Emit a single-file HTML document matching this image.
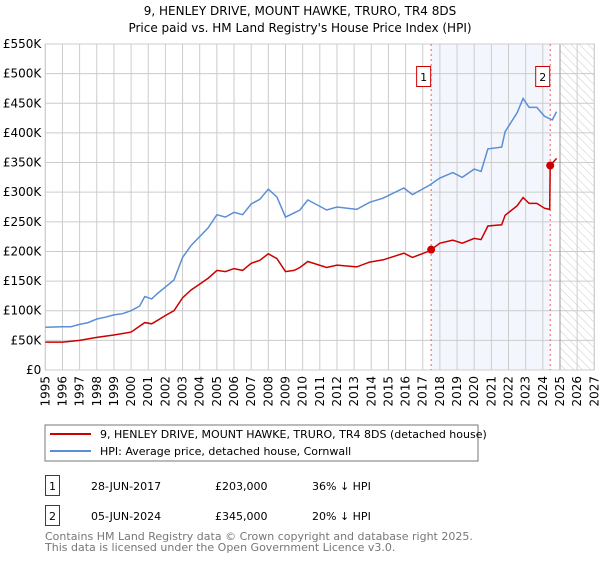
<!DOCTYPE html>
<html><head><meta charset="utf-8"><style>
body{margin:0;background:#fff;font-family:"DejaVu Sans","Liberation Sans",sans-serif;}
svg text{font-family:"DejaVu Sans","Liberation Sans",sans-serif;}
</style></head><body>
<svg id="chart" width="600" height="560" viewBox="0 0 600 560" xmlns="http://www.w3.org/2000/svg">
<defs><pattern id="hatch" width="6" height="6" patternUnits="userSpaceOnUse" patternTransform="rotate(-45)"><line x1="0" y1="0" x2="0" y2="6" stroke="#ccc" stroke-width="1"/></pattern></defs>
<text x="300" y="15" font-size="12" text-anchor="middle">9, HENLEY DRIVE, MOUNT HAWKE, TRURO, TR4 8DS</text>
<text x="300" y="32" font-size="12" text-anchor="middle">Price paid vs. HM Land Registry's House Price Index (HPI)</text>
<g id="plot"></g>
<g>
<rect x="45" y="425" width="433" height="36" fill="#fff" stroke="#777"/>
<line x1="50" y1="434" x2="91" y2="434" stroke="#cc0000" stroke-width="2"/>
<text x="100" y="438" font-size="11">9, HENLEY DRIVE, MOUNT HAWKE, TRURO, TR4 8DS (detached house)</text>
<line x1="50" y1="451" x2="91" y2="451" stroke="#5b8ed6" stroke-width="2"/>
<text x="100" y="455" font-size="11">HPI: Average price, detached house, Cornwall</text>
</g>
<g font-size="11">
<rect x="45.5" y="475.5" width="14" height="20" fill="none" stroke="#cc0000"/>
<text x="52.5" y="490" text-anchor="middle">1</text>
<text x="91" y="490">28-JUN-2017</text><text x="215" y="490">£203,000</text><text x="312" y="490">36% ↓ HPI</text>
</g>
<g font-size="11">
<rect x="45.5" y="505.5" width="14" height="20" fill="none" stroke="#cc0000"/>
<text x="52.5" y="520" text-anchor="middle">2</text>
<text x="91" y="520">05-JUN-2024</text><text x="215" y="520">£345,000</text><text x="312" y="520">20% ↓ HPI</text>
</g>
<text x="45" y="540" font-size="11" fill="#777">Contains HM Land Registry data © Crown copyright and database right 2025.</text>
<text x="45" y="551" font-size="11" fill="#777">This data is licensed under the Open Government Licence v3.0.</text>
</svg>
<script>
const hpiYears=[1995,1996,1996.5,1997,1997.5,1998,1998.5,1999,1999.5,2000,2000.5,2000.8,2001.2,2001.5,2002,2002.5,2003,2003.5,2004,2004.5,2005,2005.5,2006,2006.5,2007,2007.5,2008,2008.5,2009,2009.5,2009.84,2010.3,2011.4,2012,2013.15,2013.9,2014.7,2015.9,2016.4,2017.4,2018,2018.75,2019.3,2020,2020.4,2020.8,2021.6,2021.8,2022.5,2022.85,2023.2,2023.65,2024.1,2024.55,2024.8];
const hpiValues=[72,73,73,77,80,86,89,93,95,100,108,124,120,128,140,152,190,210,225,240,262,258,266,262,280,288,305,292,258,265,270,287,270,275,271,283,290,307,296,312,324,333,325,339,335,373,376,402,434,458,443,443,428,422,436];
const paidYears=[1995,1996,1997,1998,1999,2000,2000.8,2001.2,2001.5,2002,2002.5,2003,2003.5,2004,2004.5,2005,2005.5,2006,2006.5,2007,2007.5,2008,2008.5,2009,2009.5,2009.84,2010.3,2011.4,2012,2013.15,2013.9,2014.7,2015.9,2016.4,2017.4,2017.49,2018,2018.75,2019.3,2020,2020.4,2020.8,2021.6,2021.8,2022.5,2022.85,2023.2,2023.65,2024.1,2024.4,2024.43,2024.8];
const paidValues=[47,47,50,55,59,64,80,78,83,92,100,122,135,145,155,168,166,171,168,180,185,196,188,166,168,173,183,173,177,174,182,186,197,190,201,203,214,219,214,222,220,243,245,261,277,291,281,281,273,271,345,357];
const saleYears=[2017.49,2024.43];
const saleValues=[203,345];
const saleLabels=["1","2"];
const yTicks=[0,50,100,150,200,250,300,350,400,450,500,550];
const xTicks=[1995,1996,1997,1998,1999,2000,2001,2002,2003,2004,2005,2006,2007,2008,2009,2010,2011,2012,2013,2014,2015,2016,2017,2018,2019,2020,2021,2022,2023,2024,2025,2026,2027];
const L=45.3,R=594.3,T=44,B=370;
const X=y=>L+(y-1995)/(2027-1995)*(R-L);
const Y=v=>B-v/550*(B-T);
const NS="http://www.w3.org/2000/svg";
const g=document.getElementById('plot');
function mk(t,a){const e=document.createElementNS(NS,t);for(const k in a)e.setAttribute(k,a[k]);g.appendChild(e);return e;}
let e=mk('rect',{x:X(saleYears[0]),y:T,width:X(saleYears[1])-X(saleYears[0]),height:B-T,fill:'#eef3fc',opacity:0.7});


e=mk('rect',{x:X(2025),y:T,width:R-X(2025),height:B-T,fill:'url(#hatch)'});


yTicks.forEach(v=>{const l=mk('line',{x1:L,x2:R,y1:Y(v),y2:Y(v),stroke:'#ccc'});


const t=mk('text',{x:L-4,y:Y(v)+4,'font-size':12,'text-anchor':'end'});t.textContent=v===0?'£0':'£'+v+'K';

});
xTicks.forEach(yr=>{const l=mk('line',{x1:X(yr),x2:X(yr),y1:T,y2:B,stroke:'#ccc'});


const t=mk('text',{x:X(yr)+4,y:B+6,'font-size':12,'text-anchor':'end',transform:`rotate(-90 ${X(yr)+4} ${B+6})`});t.textContent=yr;

});
e=mk('line',{x1:X(2025),x2:X(2025),y1:T,y2:B,stroke:'#999'});


e=mk('rect',{x:L,y:T,width:R-L,height:B-T,fill:'none',stroke:'#ccc'});


saleYears.forEach(yr=>{const l=mk('line',{x1:X(yr),x2:X(yr),y1:T,y2:B,stroke:'#f06060','stroke-dasharray':'2,3'});

});
const pts=(xs,vs)=>xs.map((x,i)=>X(x).toFixed(1)+','+Y(vs[i]).toFixed(1)).join(' ');
e=mk('polyline',{points:pts(hpiYears,hpiValues),fill:'none',stroke:'#5b8ed6','stroke-width':1.5});


e=mk('polyline',{points:pts(paidYears,paidValues),fill:'none',stroke:'#cc0000','stroke-width':1.5});


saleYears.forEach((yr,i)=>{const c=mk('circle',{cx:X(yr),cy:Y(saleValues[i]),r:4,fill:'#cc0000'});


const b=mk('rect',{x:X(yr)-14.5,y:66.5,width:14,height:20,fill:'#fff',stroke:'#cc0000'});


const t=mk('text',{x:X(yr)-7.5,y:81,'font-size':11,'text-anchor':'middle'});t.textContent=saleLabels[i];

});
</script>
</body></html>
